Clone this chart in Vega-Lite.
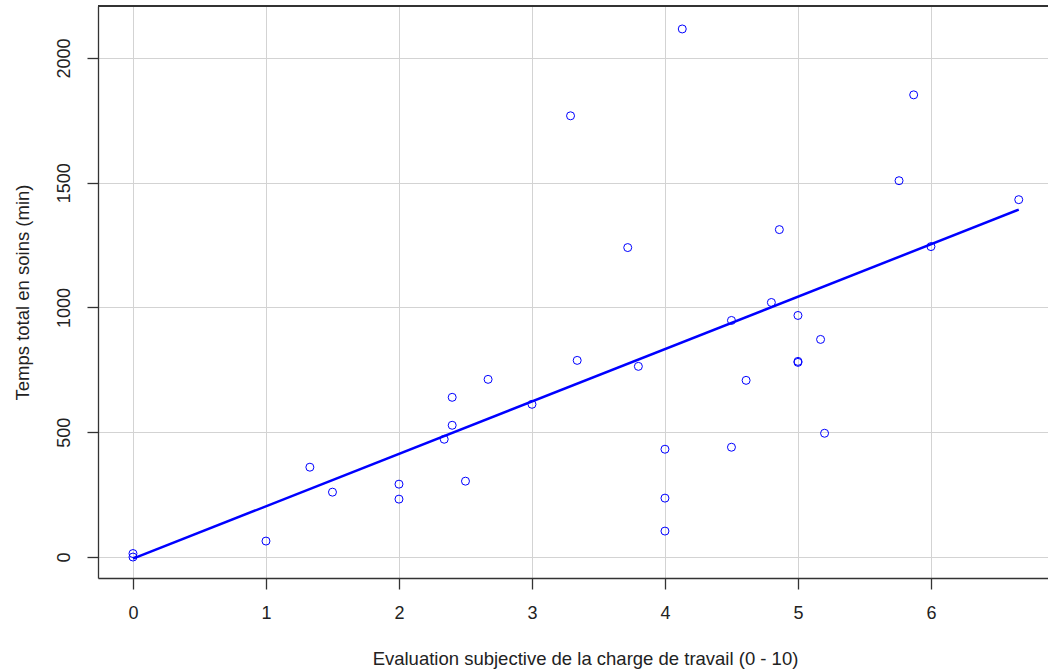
{
  "$schema": "https://vega.github.io/schema/vega-lite/v6.json",
  "width": 950,
  "height": 572,
  "autosize": {"type": "none"},
  "padding": {"left": 98, "top": 6, "right": 0, "bottom": 94},
  "background": "white",
  "config": {
    "view": {"stroke": null},
    "font": "Liberation Sans",
    "axis": {
      "labelFont": "Liberation Sans",
      "titleFont": "Liberation Sans",
      "labelFontSize": 18,
      "titleFontSize": 18.5,
      "labelColor": "#222222",
      "titleColor": "#222222",
      "titleFontWeight": "normal",
      "grid": true,
      "gridColor": "#d3d3d3",
      "gridWidth": 1,
      "gridOpacity": 1,
      "domainColor": "#333333",
      "domainWidth": 1.3,
      "tickColor": "#333333",
      "tickWidth": 1.3
    }
  },
  "data": {
    "values": [
      {"charge": 0, "temps": 0},
      {"charge": 0, "temps": 14},
      {"charge": 1, "temps": 64},
      {"charge": 1.33, "temps": 360},
      {"charge": 1.5, "temps": 260},
      {"charge": 2, "temps": 292},
      {"charge": 2, "temps": 232},
      {"charge": 2.34, "temps": 472},
      {"charge": 2.4, "temps": 640},
      {"charge": 2.4, "temps": 528},
      {"charge": 2.5, "temps": 304},
      {"charge": 2.67, "temps": 712},
      {"charge": 3, "temps": 612},
      {"charge": 3.29, "temps": 1768},
      {"charge": 3.34, "temps": 788},
      {"charge": 3.72, "temps": 1240},
      {"charge": 3.8, "temps": 764},
      {"charge": 4, "temps": 432},
      {"charge": 4, "temps": 236},
      {"charge": 4, "temps": 104},
      {"charge": 4.13, "temps": 2116},
      {"charge": 4.5, "temps": 948},
      {"charge": 4.5, "temps": 440},
      {"charge": 4.61, "temps": 708},
      {"charge": 4.8, "temps": 1020},
      {"charge": 4.86, "temps": 1312},
      {"charge": 5, "temps": 968},
      {"charge": 5, "temps": 780},
      {"charge": 5, "temps": 784},
      {"charge": 5.17, "temps": 872},
      {"charge": 5.2, "temps": 496},
      {"charge": 5.76, "temps": 1508},
      {"charge": 5.87, "temps": 1852},
      {"charge": 6, "temps": 1244},
      {"charge": 6.66, "temps": 1432}
    ]
  },
  "layer": [
    {
      "mark": {"type": "point", "shape": "circle", "filled": false, "color": "#0000ff", "strokeWidth": 1, "size": 64, "opacity": 1},
      "encoding": {
        "x": {
          "field": "charge",
          "type": "quantitative",
          "scale": {"domain": [-0.263, 6.88], "nice": false, "zero": false},
          "axis": {
            "title": "Evaluation subjective de la charge de travail (0 - 10)",
            "values": [0, 1, 2, 3, 4, 5, 6],
            "format": "d",
            "grid": true,
            "tickSize": 11,
            "labelPadding": 15,
            "titleX": 487,
            "titleY": 80,
            "titleAnchor": null,
            "titleAlign": "center",
            "titleBaseline": "middle"
          }
        },
        "y": {
          "field": "temps",
          "type": "quantitative",
          "scale": {"domain": [-84, 2208], "nice": false, "zero": false},
          "axis": {
            "title": "Temps total en soins (min)",
            "values": [0, 500, 1000, 1500, 2000],
            "format": "d",
            "grid": true,
            "tickSize": 11,
            "labelAngle": -90,
            "labelAlign": "center",
            "labelBaseline": "bottom",
            "labelPadding": 14,
            "titleX": -76,
            "titleY": 286,
            "titleAngle": -90,
            "titleAlign": "center",
            "titleBaseline": "middle",
            "titleAnchor": null
          }
        }
      }
    },
    {
      "transform": [{"regression": "temps", "on": "charge"}],
      "mark": {"type": "line", "color": "#0000ff", "strokeWidth": 2.5},
      "encoding": {
        "x": {"field": "charge", "type": "quantitative"},
        "y": {"field": "temps", "type": "quantitative"}
      }
    },
    {
      "mark": {"type": "rule", "color": "#333333", "strokeWidth": 1.3},
      "encoding": {"y": {"datum": 2208}}
    }
  ]
}
